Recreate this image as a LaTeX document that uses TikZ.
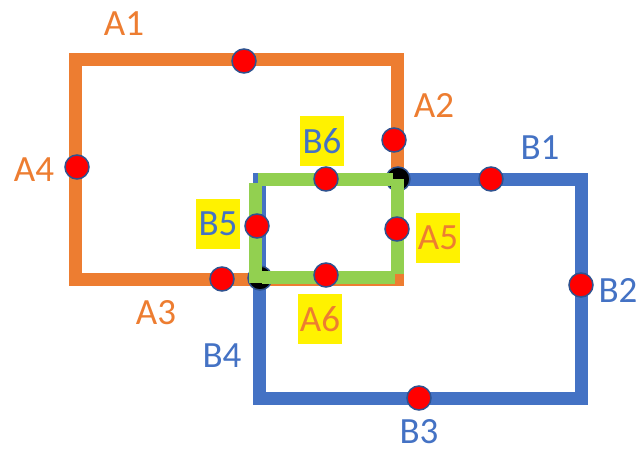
\documentclass[tikz,border=0pt]{standalone}
\usepackage{fontspec}
\setmainfont{Carlito}
\definecolor{aor}{HTML}{ED7D31}
\definecolor{bbl}{HTML}{4472C4}
\definecolor{gg}{HTML}{92D050}
\definecolor{ol}{HTML}{2F528F}
\begin{document}
\begin{tikzpicture}[x=1pt,y=-1pt,
 dotr/.style={circle,fill=red,draw=ol,line width=1.5pt,minimum size=24pt,inner sep=0},
 dotk/.style={circle,fill=black,draw=ol,line width=1.5pt,minimum size=24pt,inner sep=0},
 lbl/.style={font=\fontsize{37}{40}\selectfont,inner sep=0},
 hl/.style={lbl,fill=yellow,minimum width=44pt,minimum height=50pt},
 rectline/.style={line width=13pt,line join=miter},
 gline/.style={gg,line width=13pt}]
\useasboundingbox (0,0) rectangle (642,449);
% rectangles A and B
\draw[rectline,aor] (75,60) rectangle (397,279);
\draw[rectline,bbl] (259,180) rectangle (581,398);
% black intersection dots
\node[dotk] (x1) at (398,179) {};
\node[dotk] (x2) at (260,278) {};
% green overlap rectangle
\coordinate (g1) at (258,179.5);
\coordinate (g2) at (393,179.5);
\coordinate (g3) at (397,179);
\coordinate (g4) at (397,274);
\coordinate (g5) at (395,277);
\coordinate (g6) at (262,277);
\coordinate (g7) at (255,283);
\coordinate (g8) at (255,183);
\draw[gline] (g1) -- (g2);
\draw[gline] (g3) -- (g4);
\draw[gline] (g5) -- (g6);
\draw[gline] (g7) -- (g8);
% red dots
\node[dotr] (a1) at (244,61) {};
\node[dotr] (a2) at (394,140) {};
\node[dotr] (a3) at (222,279) {};
\node[dotr] (a4) at (77,167) {};
\node[dotr] (a5) at (397,229) {};
\node[dotr] (a6) at (326,275) {};
\node[dotr] (b1) at (491,179) {};
\node[dotr] (b2) at (581,285) {};
\node[dotr] (b3) at (419,398) {};
\node[dotr] (b5) at (257,226) {};
\node[dotr] (b6) at (326,179) {};
% labels
\node[lbl,text=aor] (la1) at (124,24) {A1};
\node[lbl,text=aor] (la2) at (434,105) {A2};
\node[lbl,text=aor] (la3) at (156,313) {A3};
\node[lbl,text=aor] (la4) at (34,170) {A4};
\node[hl,text=aor] (la5) at (438,238) {A5};
\node[hl,text=aor] (la6) at (320,319) {A6};
\node[lbl,text=bbl] (lb1) at (540,148) {B1};
\node[lbl,text=bbl] (lb2) at (618,290) {B2};
\node[lbl,text=bbl] (lb3) at (419,432) {B3};
\node[lbl,text=bbl] (lb4) at (222,356) {B4};
\node[hl,text=bbl] (lb5) at (218,224) {B5};
\node[hl,text=bbl] (lb6) at (322,141) {B6};
\end{tikzpicture}
\end{document}
